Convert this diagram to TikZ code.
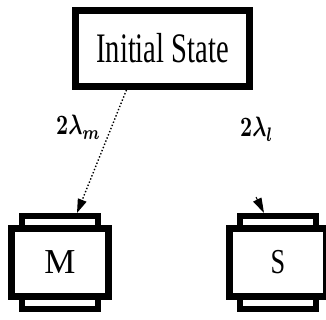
\documentclass[tikz,border=0pt]{standalone}
\usepackage{fontspec}
\setmainfont{Liberation Serif}
\usetikzlibrary{arrows.meta}
\begin{document}
\begin{tikzpicture}[x=1pt,y=-1pt,
  box/.style={draw, line width=7pt, fill=white, inner sep=0pt, minimum width=97pt, minimum height=68pt},
  tabbox/.style={draw, line width=6pt, fill=white, inner sep=0pt, minimum width=76pt, minimum height=19pt},
  lbl/.style={inner sep=0pt},
  conn/.style={line width=1.4pt, dotted, -{Triangle[length=14pt,width=9pt]}},
  headonly/.style={line width=1pt, -{Triangle[length=15pt,width=9pt]}}]
\useasboundingbox (0,0) rectangle (326,320);
% tabs
\node[tabbox] (Mt) at (60,225.5) {};
\node[tabbox] (Mb) at (60,299) {};
\node[tabbox] (St) at (278,225.5) {};
\node[tabbox] (Sb) at (278,299) {};
% main boxes
\node[box] (M) at (60,262.5) {\fontsize{35}{38}\selectfont M};
\node[box] (S) at (278,262.5) {\fontsize{35}{38}\selectfont\scalebox{0.75}[1]{S}};
\node[draw, line width=7pt, fill=white, inner sep=0pt, minimum width=174pt, minimum height=76pt]
  (init) at (162.5,48.5) {\fontsize{42}{44}\selectfont\scalebox{0.68}[1]{Initial State}};
% labels
\node[lbl, anchor=base west] (lm) at (56,135) {\scalebox{2.1}[2.8]{\boldmath$2\lambda_m$}};
\node[lbl, anchor=base west] (ll) at (240,137) {\scalebox{2.1}[2.8]{\boldmath$2\lambda_l$}};
% connectors
\coordinate (mEnd) at (77,213);
\draw[conn] (init.229) -- (mEnd);
\coordinate (s0) at (256,197);
\coordinate (sEnd) at (264,213);
\draw[headonly] (s0) -- (sEnd);
\end{tikzpicture}
\end{document}
